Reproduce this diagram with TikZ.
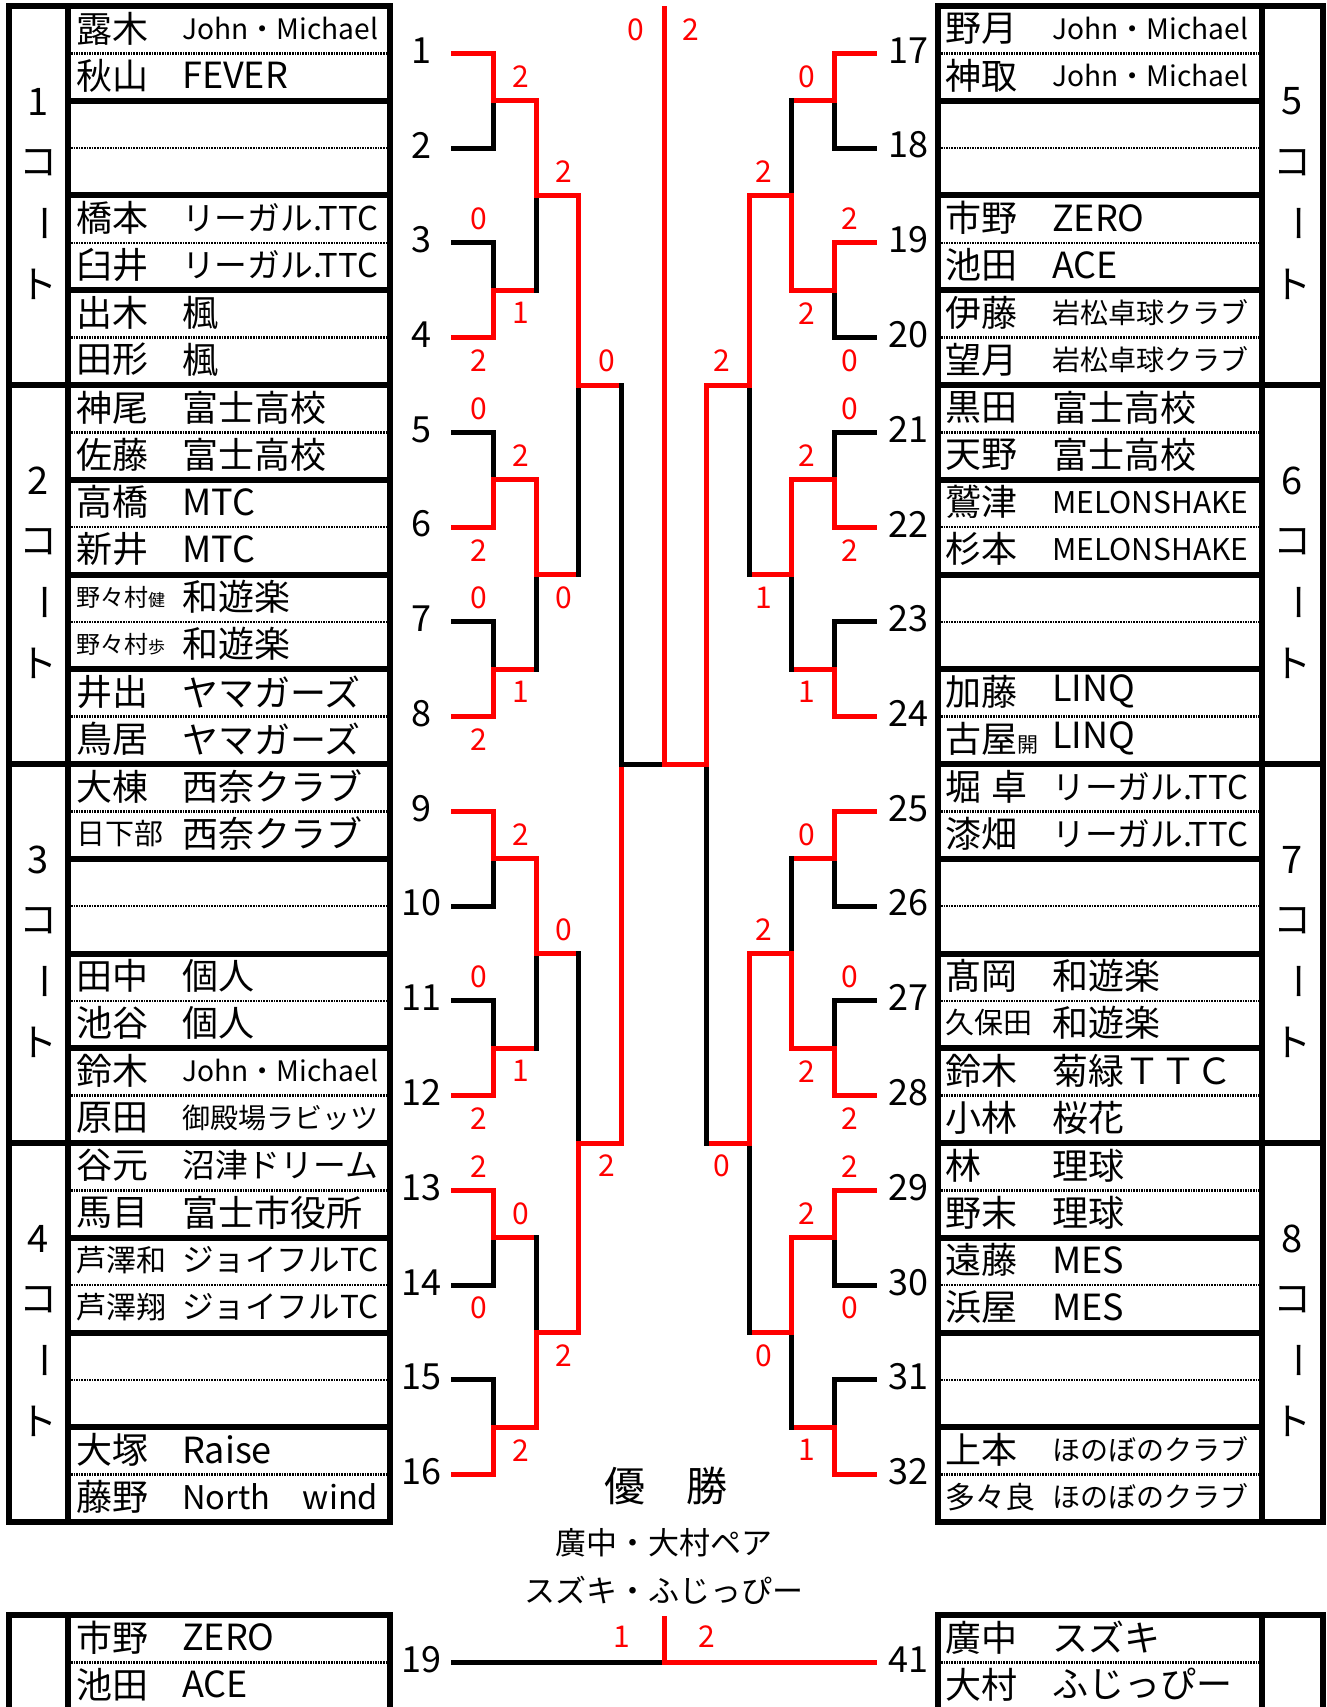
\documentclass[tikz,border=0pt]{standalone}
\usepackage{fontspec}
\setmainfont{Noto Sans CJK JP}
\usepackage{graphicx}
\usetikzlibrary{calc}

% team names are shrunk to fit the cell
\newsavebox\teambox
\newcommand\fitteam[1]{\sbox\teambox{#1}\ifdim\wd\teambox>196pt\resizebox{196pt}{!}{\usebox\teambox}\else\usebox\teambox\fi}
\newcommand\sm[2]{{\fontsize{#1}{#1}\selectfont #2}}

% one match: upper, lower, junction name, step, upper line, lower line, upper half, lower half
\newcommand\bout[8]{%
  \coordinate (#3) at ($(#1)!.5!(#2)+(#4,0)$);
  \draw[#5] (#1) -- (#1 -| #3);
  \draw[#6] (#2) -- (#2 -| #3);
  \draw[#7] (#1 -| #3) -- (#3);
  \draw[#8] (#3) -- (#2 -| #3);
}
% games won: upper, lower, junction, x offset, upper score, lower score
\newcommand\pts[6]{%
  \node[score] (#3u) at ($(#1 -| #3)+(#4,-24)$) {#5};
  \node[score] (#3l) at ($(#2 -| #3)+(#4,23)$) {#6};
}

\begin{document}
\begin{tikzpicture}[x=1pt, y=-1pt,
    won/.style={line width=5pt, red, line cap=rect},
    lost/.style={line width=5pt, black, line cap=rect},
    boxline/.style={line width=6pt},
    dotrow/.style={line width=2.6pt, dash pattern=on 1.6pt off 1pt},
    player/.style={anchor=west, inner sep=0pt, font=\fontsize{36}{36}\selectfont},
    num/.style={inner sep=0pt, font=\fontsize{36}{36}\selectfont},
    court/.style={inner sep=0pt, font=\fontsize{38}{38}\selectfont},
    score/.style={inner sep=0pt, red, font=\fontsize{30}{30}\selectfont},
    champ/.style={inner sep=0pt, font=\fontsize{31}{31}\selectfont}
]
\path[fill=white] (0,0) rectangle (1327,1707);
\useasboundingbox (0,0) rectangle (1327,1707);

% Entry tables
\draw[boxline] (9,6) rectangle (390,1522);
\draw[boxline] (68,6) -- (68,1522);
\draw[boxline] (938,6) rectangle (1323,1522);
\draw[boxline] (1262,6) -- (1262,1522);
\foreach \k in {1,...,15} {
  \draw[boxline] (68,{6+\k*94.75}) -- (390,{6+\k*94.75});
  \draw[boxline] (938,{6+\k*94.75}) -- (1262,{6+\k*94.75});
}
\foreach \k in {4,8,12} {
  \draw[boxline] (9,{6+\k*94.75}) -- (390,{6+\k*94.75});
  \draw[boxline] (938,{6+\k*94.75}) -- (1323,{6+\k*94.75});
}
\foreach \k in {1,...,16} {
  \draw[dotrow] (71,{53.4+(\k-1)*94.75}) -- (387,{53.4+(\k-1)*94.75});
  \draw[dotrow] (941,{53.4+(\k-1)*94.75}) -- (1259,{53.4+(\k-1)*94.75});
}

% Courts
\foreach \c in {1,...,4} {
  \pgfmathtruncatemacro\d{\c+4}
  \pgfmathsetmacro\cy{195.5+(\c-1)*379}
  \node[court] (cn\c) at (38.5,{\cy-94}) {\c};
  \node[court] (ck\c) at (38.5,{\cy-33}) {コ};
  \node[court, rotate=-90] (cb\c) at (38.5,{\cy+28}) {ー};
  \node[court] (ct\c) at (38.5,{\cy+89}) {ト};
  \node[court] (cn\d) at (1292.5,{\cy-94}) {\d};
  \node[court] (ck\d) at (1292.5,{\cy-33}) {コ};
  \node[court, rotate=-90] (cb\d) at (1292.5,{\cy+28}) {ー};
  \node[court] (ct\d) at (1292.5,{\cy+89}) {ト};
}

% Left pairs
\foreach \i/\nameA/\teamA/\nameB/\teamB in {
    1/露木/John・Michael/秋山/FEVER,
    3/橋本/リーガル.TTC/臼井/リーガル.TTC,
    4/出木/楓/田形/楓,
    5/神尾/富士高校/佐藤/富士高校,
    6/高橋/MTC/新井/MTC,
    7/\sm{24}{野々村}\sm{17}{健}/和遊楽/\sm{24}{野々村}\sm{17}{歩}/和遊楽,
    8/井出/ヤマガーズ/鳥居/ヤマガーズ,
    9/大棟/西奈クラブ/\sm{29}{日下部}/西奈クラブ,
    11/田中/個人/池谷/個人,
    12/鈴木/John・Michael/原田/御殿場ラビッツ,
    13/谷元/沼津ドリーム/馬目/富士市役所,
    14/\sm{30}{芦澤和}/ジョイフルTC/\sm{30}{芦澤翔}/ジョイフルTC,
    16/大塚/Raise/藤野/North　wind} {
  \pgfmathsetmacro\ya{28.4+(\i-1)*94.75}
  \pgfmathsetmacro\yb{75.4+(\i-1)*94.75}
  \node[player] (na\i) at (76,\ya) {\nameA};
  \node[player] (ta\i) at (182,\ya) {\fitteam{\teamA}};
  \node[player] (nb\i) at (76,\yb) {\nameB};
  \node[player] (tb\i) at (182,\yb) {\fitteam{\teamB}};
}

% Right pairs
\foreach \i/\nameA/\teamA/\nameB/\teamB in {
    17/野月/John・Michael/神取/John・Michael,
    19/市野/ZERO/池田/ACE,
    20/伊藤/岩松卓球クラブ/望月/岩松卓球クラブ,
    21/黒田/富士高校/天野/富士高校,
    22/鷲津/MELONSHAKE/杉本/MELONSHAKE,
    24/加藤/LINQ/古屋\sm{21}{開}/LINQ,
    25/堀\hspace{10pt}卓/リーガル.TTC/漆畑/リーガル.TTC,
    27/髙岡/和遊楽/\sm{29}{久保田}/和遊楽,
    28/鈴木/菊緑ＴＴＣ/小林/桜花,
    29/林/理球/野末/理球,
    30/遠藤/MES/浜屋/MES,
    32/上本/ほのぼのクラブ/\sm{30}{多々良}/ほのぼのクラブ} {
  \pgfmathsetmacro\ya{28.4+(\i-17)*94.75}
  \pgfmathsetmacro\yb{75.4+(\i-17)*94.75}
  \node[player] (na\i) at (945,\ya) {\nameA};
  \node[player] (ta\i) at (1052,\ya) {\fitteam{\teamA}};
  \node[player] (nb\i) at (945,\yb) {\nameB};
  \node[player] (tb\i) at (1052,\yb) {\fitteam{\teamB}};
}

% Draw numbers and line starts
\foreach \i in {1,...,16} {
  \pgfmathtruncatemacro\j{\i+16}
  \node[num] (p\i) at (421,{50.4+(\i-1)*94.75}) {\i};
  \node[num] (p\j) at (908,{50.4+(\i-1)*94.75}) {\j};
  \coordinate (s\i) at (453.5,{53.4+(\i-1)*94.75});
  \coordinate (s\j) at (874.5,{53.4+(\i-1)*94.75});
}

% Left bracket, round 1
\bout{s1}{s2}{la1}{40.1}{won}{lost}{won}{lost}
\bout{s3}{s4}{la2}{40.1}{lost}{won}{lost}{won}
\pts{s3}{s4}{la2}{-15}{0}{2}
\bout{s5}{s6}{la3}{40.1}{lost}{won}{lost}{won}
\pts{s5}{s6}{la3}{-15}{0}{2}
\bout{s7}{s8}{la4}{40.1}{lost}{won}{lost}{won}
\pts{s7}{s8}{la4}{-15}{0}{2}
\bout{s9}{s10}{la5}{40.1}{won}{lost}{won}{lost}
\bout{s11}{s12}{la6}{40.1}{lost}{won}{lost}{won}
\pts{s11}{s12}{la6}{-15}{0}{2}
\bout{s13}{s14}{la7}{40.1}{won}{lost}{won}{lost}
\pts{s13}{s14}{la7}{-15}{2}{0}
\bout{s15}{s16}{la8}{40.1}{lost}{won}{lost}{won}
% round 2
\bout{la1}{la2}{lb1}{42.6}{won}{won}{won}{lost}
\pts{la1}{la2}{lb1}{-15}{2}{1}
\bout{la3}{la4}{lb2}{42.6}{won}{won}{won}{lost}
\pts{la3}{la4}{lb2}{-15}{2}{1}
\bout{la5}{la6}{lb3}{42.6}{won}{won}{won}{lost}
\pts{la5}{la6}{lb3}{-15}{2}{1}
\bout{la7}{la8}{lb4}{42.6}{won}{won}{lost}{won}
\pts{la7}{la8}{lb4}{-15}{0}{2}
% round 3 and 4
\bout{lb1}{lb2}{lc1}{42.6}{won}{won}{won}{lost}
\pts{lb1}{lb2}{lc1}{-15}{2}{0}
\bout{lb3}{lb4}{lc2}{42.6}{won}{won}{lost}{won}
\pts{lb3}{lb4}{lc2}{-15}{0}{2}
\bout{lc1}{lc2}{ld}{42.6}{won}{won}{lost}{won}
\pts{lc1}{lc2}{ld}{-15}{0}{2}

% Right bracket, round 1
\bout{s17}{s18}{ra1}{-40.1}{won}{lost}{won}{lost}
\bout{s19}{s20}{ra2}{-40.1}{won}{lost}{won}{lost}
\pts{s19}{s20}{ra2}{15}{2}{0}
\bout{s21}{s22}{ra3}{-40.1}{lost}{won}{lost}{won}
\pts{s21}{s22}{ra3}{15}{0}{2}
\bout{s23}{s24}{ra4}{-40.1}{lost}{won}{lost}{won}
\bout{s25}{s26}{ra5}{-40.1}{won}{lost}{won}{lost}
\bout{s27}{s28}{ra6}{-40.1}{lost}{won}{lost}{won}
\pts{s27}{s28}{ra6}{15}{0}{2}
\bout{s29}{s30}{ra7}{-40.1}{won}{lost}{won}{lost}
\pts{s29}{s30}{ra7}{15}{2}{0}
\bout{s31}{s32}{ra8}{-40.1}{lost}{won}{lost}{won}
% round 2
\bout{ra1}{ra2}{rb1}{-42.6}{won}{won}{lost}{won}
\pts{ra1}{ra2}{rb1}{15}{0}{2}
\bout{ra3}{ra4}{rb2}{-42.6}{won}{won}{won}{lost}
\pts{ra3}{ra4}{rb2}{15}{2}{1}
\bout{ra5}{ra6}{rb3}{-42.6}{won}{won}{lost}{won}
\pts{ra5}{ra6}{rb3}{15}{0}{2}
\bout{ra7}{ra8}{rb4}{-42.6}{won}{won}{won}{lost}
\pts{ra7}{ra8}{rb4}{15}{2}{1}
% round 3 and 4
\bout{rb1}{rb2}{rc1}{-42.6}{won}{won}{won}{lost}
\pts{rb1}{rb2}{rc1}{15}{2}{1}
\bout{rb3}{rb4}{rc2}{-42.6}{won}{won}{won}{lost}
\pts{rb3}{rb4}{rc2}{15}{2}{0}
\bout{rc1}{rc2}{rd}{-42.6}{won}{won}{won}{lost}
\pts{rc1}{rc2}{rd}{15}{2}{0}

% Final
\coordinate (fin) at ($(ld)!.5!(rd)$);
\coordinate (fintop) at (664,8.5);
\draw[lost] (ld) -- (fin);
\draw[won] (rd) -- (fin);
\draw[won] (fintop) -- (fin);
\node[score] (finl) at ($(fintop)+(-28,21.5)$) {0};
\node[score] (finr) at ($(fintop)+(27,21.5)$) {2};

% Champion
\node[inner sep=0pt, font=\fontsize{41}{41}\selectfont] (yusho) at (666,1486) {優　勝};
\node[champ] (champa) at (664,1543) {廣中・大村ペア};
\node[champ] (champb) at (664,1590) {スズキ・ふじっぴー};

% Play-off
\draw[boxline] (9,1615) rectangle (390,1712);
\draw[boxline] (68,1615) -- (68,1712);
\draw[dotrow] (71,1662.4) -- (387,1662.4);
\draw[boxline] (938,1615) rectangle (1323,1712);
\draw[boxline] (1262,1615) -- (1262,1712);
\draw[dotrow] (941,1662.4) -- (1259,1662.4);
\node[player] (xa19) at (76,1637.4) {市野};
\node[player] (ya19) at (182,1637.4) {\fitteam{ZERO}};
\node[player] (xb19) at (76,1684.4) {池田};
\node[player] (yb19) at (182,1684.4) {\fitteam{ACE}};
\node[player] (xa41) at (945,1637.4) {廣中};
\node[player] (ya41) at (1052,1637.4) {\fitteam{スズキ}};
\node[player] (xb41) at (945,1684.4) {大村};
\node[player] (yb41) at (1052,1684.4) {\fitteam{ふじっぴー}};
\node[num] (q19) at (421,1659.4) {19};
\node[num] (q41) at (908,1659.4) {41};
\coordinate (qs19) at (453.5,1662.4);
\coordinate (qs41) at (874.5,1662.4);
\coordinate (qfin) at ($(qs19)!.5!(qs41)$);
\coordinate (qtop) at (664,1618.5);
\draw[lost] (qs19) -- (qfin);
\draw[won] (qfin) -- (qs41);
\draw[won] (qtop) -- (qfin);
\node[score] (qsl) at (622,1637) {1};
\node[score] (qsr) at (707,1637) {2};

\end{tikzpicture}
\end{document}
